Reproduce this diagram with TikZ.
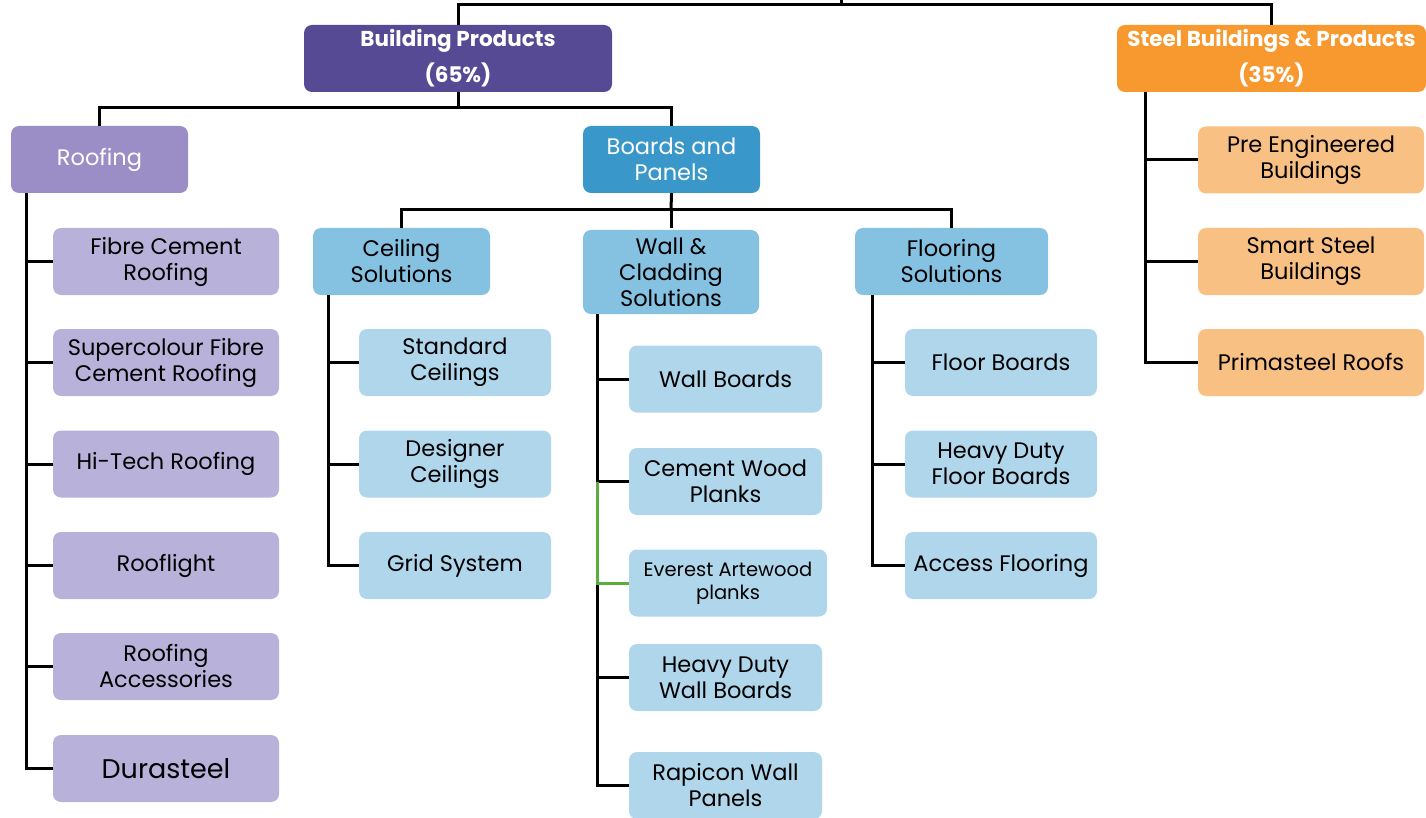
\documentclass[tikz,border=0pt]{standalone}
\usepackage{fontspec}
\setmainfont{Poppins}
\begin{document}
\begin{tikzpicture}[x=1pt,y=-1pt,
  box/.style={rounded corners=8pt, draw=none, align=center, inner sep=0pt, font=\fontsize{22.5}{26}\selectfont, text=black},
  hdr/.style={box, text=white, font=\bfseries\fontsize{21.5}{36}\selectfont},
  conn/.style={line width=3pt, black},
  gconn/.style={line width=3pt, color=greenln}]
\definecolor{bpc}{HTML}{574A94}
\definecolor{sbc}{HTML}{F7992F}
\definecolor{roofc}{HTML}{9B8EC6}
\definecolor{roofl}{HTML}{B8B2DA}
\definecolor{bnpc}{HTML}{3A97C9}
\definecolor{midb}{HTML}{85C1E1}
\definecolor{lightb}{HTML}{B0D6EB}
\definecolor{orl}{HTML}{F9C083}
\definecolor{greenln}{HTML}{5BAE3C}
\useasboundingbox (0,0) rectangle (1426,818);
% level 1
\node[hdr, fill=bpc, minimum width=308, minimum height=67] (bp) at (458,58.5) {Building Products\\(65\%)};
\node[hdr, fill=sbc, minimum width=309, minimum height=67] (sb) at (1271.5,58.5) {Steel Buildings \& Products\\(35\%)};
% level 2
\node[box, fill=roofc, text=white, minimum width=177, minimum height=67] (roof) at (99.5,159.5) {Roofing};
\node[box, fill=bnpc, text=white, minimum width=177, minimum height=67] (bnp) at (671.5,159.5) {Boards and\\Panels};
% level 3
\node[box, fill=midb, minimum width=177, minimum height=67] (ceil) at (401.5,261.5) {Ceiling\\Solutions};
\node[box, fill=midb, minimum width=176, minimum height=84] (wall) at (671,272) {Wall \&\\Cladding\\Solutions};
\node[box, fill=midb, minimum width=193, minimum height=67] (floor) at (951.5,261.5) {Flooring\\Solutions};
% roofing leaves
\node[box, fill=roofl, minimum width=226, minimum height=67] (fcr) at (166,261.5) {Fibre Cement\\Roofing};
\node[box, fill=roofl, minimum width=226, minimum height=67] (scr) at (166,362.5) {Supercolour Fibre\\Cement Roofing};
\node[box, fill=roofl, minimum width=226, minimum height=67] (htr) at (166,464) {Hi-Tech Roofing};
\node[box, fill=roofl, minimum width=226, minimum height=67] (rfl) at (166,565.5) {Rooflight};
\node[box, fill=roofl, minimum width=226, minimum height=67] (rac) at (166,666.5) {Roofing\\Accessories};
\node[box, fill=roofl, minimum width=226, minimum height=67, font=\fontsize{27}{30}\selectfont] (dur) at (166,768.5) {Durasteel};
% ceiling leaves
\node[box, fill=lightb, minimum width=192, minimum height=67] (stc) at (455,362.5) {Standard\\Ceilings};
\node[box, fill=lightb, minimum width=192, minimum height=67] (dsc) at (455,464) {Designer\\Ceilings};
\node[box, fill=lightb, minimum width=192, minimum height=67] (grd) at (455,565.5) {Grid System};
% wall leaves
\node[box, fill=lightb, minimum width=193, minimum height=67] (wbd) at (725.5,379) {Wall Boards};
\node[box, fill=lightb, minimum width=193, minimum height=67] (cwp) at (725.5,481.5) {Cement Wood\\Planks};
\node[box, fill=lightb, minimum width=198, minimum height=67, font=\fontsize{19.5}{23}\selectfont] (eap) at (728,583) {Everest Artewood\\planks};
\node[box, fill=lightb, minimum width=193, minimum height=67] (hwb) at (725.5,677.5) {Heavy Duty\\Wall Boards};
\node[box, fill=lightb, minimum width=193, minimum height=67] (rwp) at (725.5,785.5) {Rapicon Wall\\Panels};
% floor leaves
\node[box, fill=lightb, minimum width=192, minimum height=67] (fbd) at (1001,362.5) {Floor Boards};
\node[box, fill=lightb, minimum width=192, minimum height=67] (hfb) at (1001,464) {Heavy Duty\\Floor Boards};
\node[box, fill=lightb, minimum width=192, minimum height=67] (acf) at (1001,565.5) {Access Flooring};
% steel leaves
\node[box, fill=orl, minimum width=226, minimum height=67] (peb) at (1311,160) {Pre Engineered\\Buildings};
\node[box, fill=orl, minimum width=226, minimum height=67] (ssb) at (1311,261.5) {Smart Steel\\Buildings};
\node[box, fill=orl, minimum width=226, minimum height=67] (psr) at (1311,362.5) {Primasteel Roofs};
% junctions
\coordinate (top) at (841,0);
\coordinate (tj) at (841,5);
\coordinate (bpj) at (458,108);
\coordinate (bnpj) at (671,210);
\coordinate (rv) at ([xshift=16]roof.south west);
\coordinate (cv) at ([xshift=16]ceil.south west);
\coordinate (wv) at ([xshift=15]wall.south west);
\coordinate (fv) at ([xshift=18]floor.south west);
\coordinate (sv) at ([xshift=29]sb.south west);
% connectors
\draw[conn] (top) -- (tj);
\draw[conn] (bp.north) |- (tj) -| (sb.north);
\draw[conn] (bp.south) -- (bpj);
\draw[conn] (roof.north) |- (bpj) -| (bnp.north);
\draw[conn] (bnp.south) -- (bnpj);
\draw[conn] (ceil.north) |- (bnpj) -| (floor.north);
\draw[conn] (bnpj) -- ([yshift=2]wall.north);
\foreach \n in {fcr,scr,htr,rfl,rac,dur} \draw[conn] (rv) |- (\n.west);
\foreach \n in {stc,dsc,grd} \draw[conn] (cv) |- (\n.west);
\foreach \n in {fbd,hfb,acf} \draw[conn] (fv) |- (\n.west);
\foreach \n in {peb,ssb,psr} \draw[conn] (sv) |- (\n.west);
\foreach \n in {wbd,cwp,hwb,rwp} \draw[conn] (wv) |- (\n.west);
\draw[gconn] (wv |- cwp.west) |- (eap.west);
\end{tikzpicture}
\end{document}
